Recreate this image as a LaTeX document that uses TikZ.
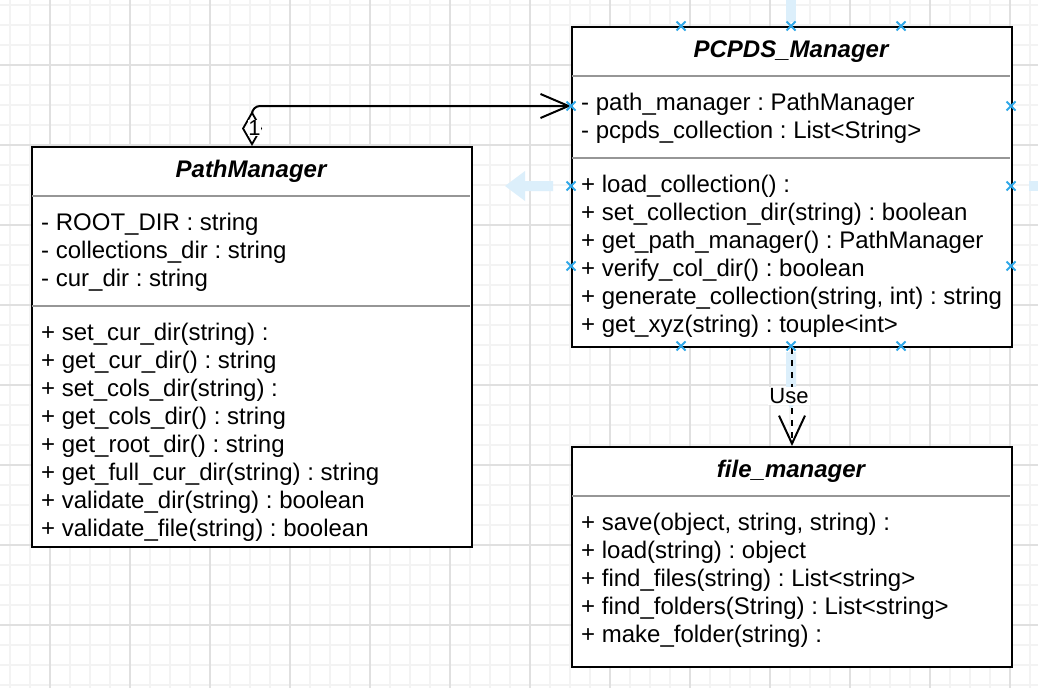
\documentclass[tikz,border=0pt]{standalone}
\usepackage{fontspec}
\setmainfont{Liberation Sans}
\usetikzlibrary{arrows.meta,calc}
\frenchspacing
\definecolor{gridminor}{RGB}{243,243,243}
\definecolor{gridmajor}{RGB}{224,224,224}
\definecolor{divgray}{RGB}{150,150,150}
\definecolor{hint}{RGB}{48,168,232}
\definecolor{ghost}{RGB}{220,239,251}
\begin{document}
\frenchspacing
\begin{tikzpicture}[x=1pt,y=-1pt,
  umlbox/.style={draw=black,line width=2pt,fill=white,inner sep=0pt,anchor=north west},
  divider/.style={draw=divgray,line width=2pt},
  title/.style={font=\fontsize{24}{28}\selectfont\frenchspacing\bfseries\itshape,anchor=base,inner sep=0pt},
  member/.style={font=\fontsize{24}{28}\selectfont\frenchspacing,anchor=base west,inner sep=0pt},
  lbl/.style={font=\fontsize{22}{26}\selectfont,fill=white,inner sep=1pt},
  conn/.style={line width=2pt,draw=black},
  hintx/.style={draw=hint,line width=2pt},
  ghostarrow/.style={fill=ghost,draw=none},
  minorline/.style={draw=gridminor,line width=1.5pt},
  majorline/.style={draw=gridmajor,line width=1.5pt},
]
\useasboundingbox (0,0) rectangle (1038,688);
\fill[white] (0,0) rectangle (1038,688);
% grid
\foreach \x in {10,30,...,1030} \draw[minorline] (\x,0) -- (\x,688);
\foreach \y in {5,25,...,685} \draw[minorline] (0,\y) -- (1038,\y);
\foreach \x in {50,130,...,1010} \draw[majorline] (\x,0) -- (\x,688);
\foreach \y in {65,145,...,625} \draw[majorline] (0,\y) -- (1038,\y);

% ghost hover arrows
\fill[ghostarrow] (505,186) -- (525,171) -- (525,181) -- (553,181) -- (553,191) -- (525,191) -- (525,201) -- cycle;
\fill[ghostarrow] (786,0) rectangle (796,22);
\fill[ghostarrow] (1029,181) rectangle (1038,191);
\fill[ghostarrow] (786,352) -- (796,352) -- (796,388) -- (806,388) -- (791,409) -- (776,388) -- (786,388) -- cycle;

% boxes
\node[umlbox,minimum width=440pt,minimum height=400pt] (pm) at (31,146) {};
\node[umlbox,minimum width=440pt,minimum height=320pt] (pc) at (571,26) {};
\node[umlbox,minimum width=440pt,minimum height=220pt] (fm) at (571,446) {};

% dividers
\draw[divider] (32,196) -- (470,196);
\draw[divider] (32,306) -- (470,306);
\draw[divider] (572,76) -- (1010,76);
\draw[divider] (572,158) -- (1010,158);
\draw[divider] (572,496) -- (1010,496);

% titles
\node[title] (pmt) at (251,177) {PathManager};
\node[title] (pct) at (791,57) {PCPDS\_Manager};
\node[title] (fmt) at (791,477) {file\_manager};

% PathManager members
\foreach \t [count=\i from 0] in {{- ROOT\_DIR : string},{- collections\_dir : string},{- cur\_dir : string}}
  \node[member] (pma\i) at (41,230+28*\i) {\t};
\foreach \t [count=\i from 0] in {{+ set\_cur\_dir(string) :},{+ get\_cur\_dir() : string},{+ set\_cols\_dir(string) :},{+ get\_cols\_dir() : string},{+ get\_root\_dir() : string},{+ get\_full\_cur\_dir(string) : string},{+ validate\_dir(string) : boolean},{+ validate\_file(string) : boolean}}
  \node[member] (pmm\i) at (41,340+28*\i) {\t};

% PCPDS_Manager members
\foreach \t [count=\i from 0] in {{- path\_manager : PathManager},{- pcpds\_collection : List<String>}}
  \node[member] (pca\i) at (581,110+28*\i) {\t};
\foreach \t [count=\i from 0] in {{+ load\_collection() :},{+ set\_collection\_dir(string) : boolean},{+ get\_path\_manager() : PathManager},{+ verify\_col\_dir() : boolean},{+ generate\_collection(string, int) : string},{+ get\_xyz(string) : touple<int>}}
  \node[member] (pcm\i) at (581,192+28*\i) {\t};

% file_manager members
\foreach \t [count=\i from 0] in {{+ save(object, string, string) :},{+ load(string) : object},{+ find\_files(string) : List<string>},{+ find\_folders(String) : List<string>},{+ make\_folder(string) :}}
  \node[member] (fmm\i) at (581,530+28*\i) {\t};

% connectors
\coordinate (pcin) at ($(pc.north west)+(0,80)$);
\draw[conn,rounded corners=8pt,{Diamond[open,length=35pt,width=20pt,line width=1.8pt]}-{Straight Barb[length=28pt,width=24pt]}]
  (pm.north) -- (pm.north |- pcin) -- (pcin);
\node[lbl,inner sep=0.5pt] (one) at (254.5,128) {1};

\draw[conn,dash pattern=on 6pt off 6pt,-{Straight Barb[length=28pt,width=26pt]}]
  (pc.south) -- (fm.north);
\node[lbl] (use) at (789,396) {Use};

% connection hint marks
\foreach \p in {(681,26),(791,26),(901,26),(681,346),(791,346),(901,346),(571,106),(571,186),(571,266),(1011,106),(1011,186),(1011,266)}
  \draw[hintx] \p +(-4.5,-4.5) -- +(4.5,4.5) \p +(-4.5,4.5) -- +(4.5,-4.5);
\end{tikzpicture}
\end{document}
